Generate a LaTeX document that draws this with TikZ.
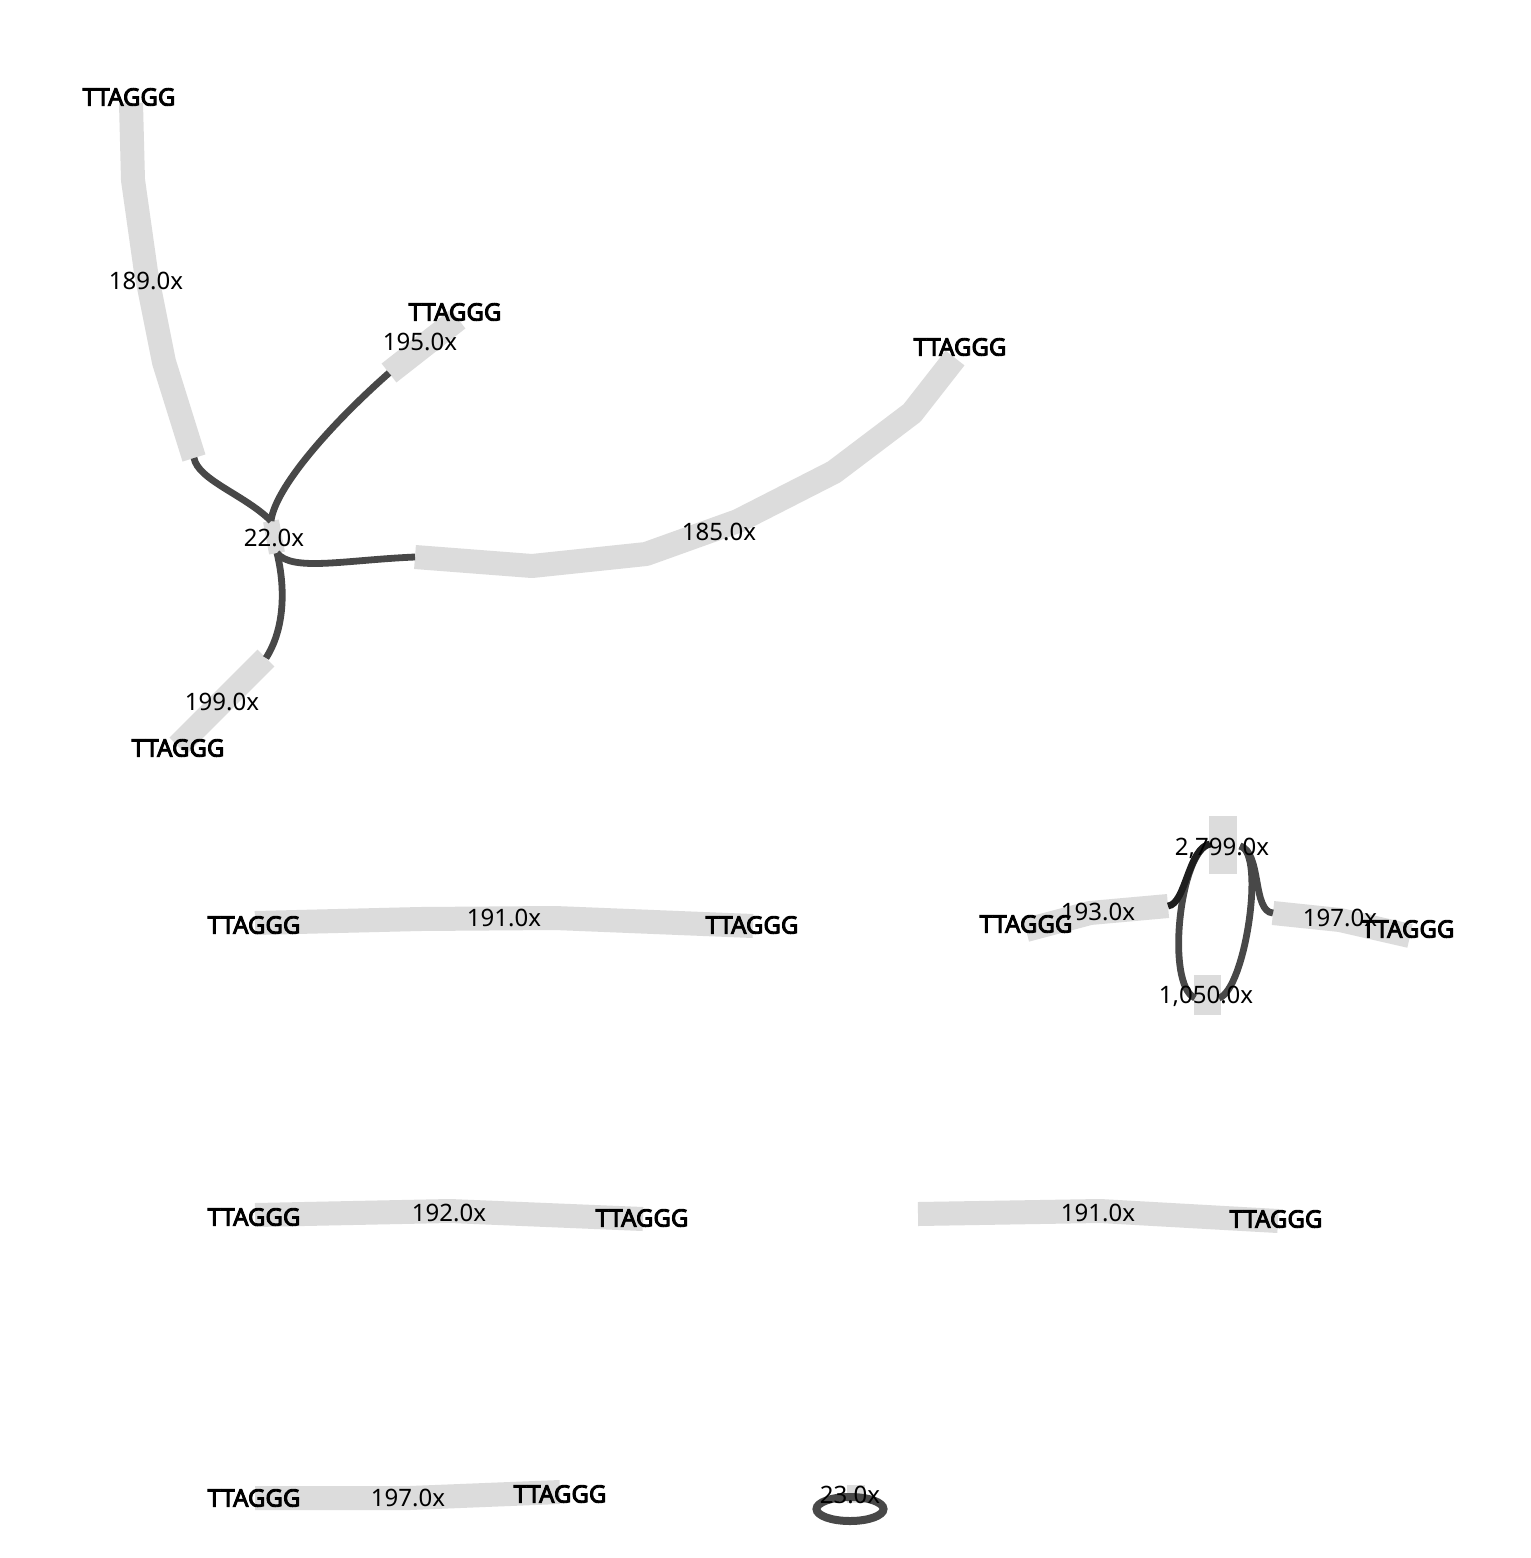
\documentclass[tikz,border=0pt]{standalone}
\usepackage{fontspec}
\setmainfont{Noto Sans}
\definecolor{segc}{HTML}{DCDCDC}
\definecolor{linkc}{HTML}{484848}
\definecolor{linkd}{HTML}{1E1E1E}
\newcommand\heavytext[1]{\special{pdf:literal direct 2 Tr 0.45 w}#1\special{pdf:literal direct 0 Tr}}
\begin{document}
\begin{tikzpicture}[x=0.5pt,y=-0.5pt,
  seg/.style={draw=segc, line width=12pt, line cap=butt, line join=bevel},
  link/.style={draw=linkc, line width=3.4pt, line cap=butt},
  lab/.style={font=\fontsize{12}{14}\selectfont, inner sep=0pt, text=black},
  tel/.style={font=\fontsize{12}{14}\selectfont, inner sep=0pt, text=black}]
\useasboundingbox[fill=white] (0,0) rectangle (1531,1558);

% ---------- top-left cluster ----------
\coordinate (a1) at (131,103);  \coordinate (a2) at (194,458);
\coordinate (b1) at (389,373);  \coordinate (b2) at (458,319);
\coordinate (c1) at (415,557);  \coordinate (c2) at (955,358);
\coordinate (d1) at (266,658);  \coordinate (d2) at (178,746);
\coordinate (h1) at (271,521);  \coordinate (h2) at (277,553);

\draw[seg] (a1) -- (133,180) -- (146,272) -- (164,362) -- (a2);
\draw[seg] (b1) -- (b2);
\draw[seg] (c1) -- (532,566) -- (646,554) -- (738,521) -- (834,472) -- (912,413) -- (c2);
\draw[seg] (d1) -- (d2);
\draw[segc, line width=8pt] (h1) -- (h2);

\draw[link] (a2) .. controls (198,480) and (245,495) .. (h1);
\draw[link] (h1) .. controls (275,488) and (330,425) .. (b1);
\draw[link] (h2) .. controls (292,572) and (345,560) .. (c1);
\draw[link] (h2) .. controls (286,590) and (284,630) .. (d1);

% ---------- row 2 left ----------
\coordinate (e1) at (255,923); \coordinate (e2) at (753,926);
\draw[seg] (e1) -- (420,919) -- (555,918) -- (e2);

% ---------- right cluster ----------
\coordinate (f1) at (1026,930); \coordinate (f2) at (1168,906);
\coordinate (g1) at (1273,913); \coordinate (g2) at (1410,936);
\coordinate (p1) at (1223,816); \coordinate (p2) at (1223,874);
\coordinate (q1) at (1207,975); \coordinate (q2) at (1207,1015);
\coordinate (pl) at (1210,844); \coordinate (pr) at (1240,846);
\coordinate (ql) at (1195,998); \coordinate (qr) at (1219,998);

\draw[seg] (f1) -- (1090,913) -- (f2);
\draw[seg] (g1) -- (1340,920) -- (g2);
\draw[segc, line width=14pt] (p1) -- (p2);
\draw[segc, line width=13.5pt] (q1) -- (q2);

\draw[link] (pl) .. controls (1180,850) and (1165,985) .. (ql);
\draw[link] (qr) .. controls (1245,990) and (1266,852) .. (pr);
\draw[link] (pr) .. controls (1262,852) and (1252,912) .. (g1);
\draw[draw=linkd, line width=3.4pt] (f2) .. controls (1186,904) and (1188,848) .. (pl);

% ---------- row 3 ----------
\coordinate (i1) at (255,1215); \coordinate (i2) at (643,1219);
\draw[seg] (i1) -- (450,1211) -- (i2);
\coordinate (j1) at (918,1214); \coordinate (j2) at (1278,1221);
\draw[seg] (j1) -- (1100,1211) -- (j2);

% ---------- row 4 ----------
\coordinate (k1) at (255,1498); \coordinate (k2) at (560,1492);
\draw[seg] (k1) -- (410,1498) -- (k2);
\coordinate (m0) at (850,1509);
\draw[segc, line width=9pt] (856,1485) -- (856,1503);
\draw[draw=linkc, line width=4pt] (m0) ellipse [x radius=33.5, y radius=12];

% ---------- labels ----------
\node[tel] (t1) at (129,97) {\heavytext{TTAGGG}};
\node[lab] (l1) at (146,281) {189.0x};
\node[tel] (t2) at (455,312) {\heavytext{TTAGGG}};
\node[lab] (l2) at (420,342) {195.0x};
\node[tel] (t3) at (960,347) {\heavytext{TTAGGG}};
\node[lab] (l3) at (719,532) {185.0x};
\node[lab] (l4) at (274,538) {22.0x};
\node[lab] (l5) at (222,702) {199.0x};
\node[tel] (t4) at (178,748) {\heavytext{TTAGGG}};

\node[tel] (t5) at (254,925) {\heavytext{TTAGGG}};
\node[lab] (l6) at (504,918) {191.0x};
\node[tel] (t6) at (752,925) {\heavytext{TTAGGG}};

\node[tel] (t7) at (1026,924) {\heavytext{TTAGGG}};
\node[lab] (l7) at (1098,912) {193.0x};
\node[lab] (l8) at (1222,848) {2,799.0x};
\node[lab] (l9) at (1206,996) {1,050.0x};
\node[lab] (l10) at (1340,918) {197.0x};
\node[tel] (t8) at (1408,929) {\heavytext{TTAGGG}};

\node[tel] (t9) at (254,1217) {\heavytext{TTAGGG}};
\node[lab] (l11) at (449,1213) {192.0x};
\node[tel] (t10) at (642,1218) {\heavytext{TTAGGG}};
\node[lab] (l12) at (1098,1213) {191.0x};
\node[tel] (t11) at (1276,1219) {\heavytext{TTAGGG}};

\node[tel] (t12) at (254,1498) {\heavytext{TTAGGG}};
\node[lab] (l13) at (408,1498) {197.0x};
\node[tel] (t13) at (560,1494) {\heavytext{TTAGGG}};
\node[lab] (l14) at (850,1495) {23.0x};
\end{tikzpicture}
\end{document}
